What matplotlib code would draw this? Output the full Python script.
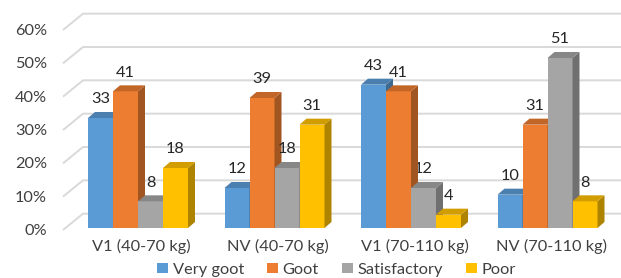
import matplotlib.pyplot as plt
from matplotlib.patches import Polygon, Patch
import matplotlib.colors as mcolors
import numpy as np

# data
groups = ["V1 (40-70 kg)", "NV (40-70 kg)", "V1 (70-110 kg)", "NV (70-110 kg)"]
series = ["Very goot", "Goot", "Satisfactory", "Poor"]
very_goot = [33, 12, 43, 10]
goot = [41, 39, 41, 31]
satisfactory = [8, 18, 12, 51]
poor = [18, 31, 4, 8]
yticks = [0, 10, 20, 30, 40, 50, 60]

colors = ["#5B9BD5", "#ED7D31", "#A5A5A5", "#FFC000"]
values = [very_goot, goot, satisfactory, poor]

plt.rcParams['font.family'] = ['Lato', 'DejaVu Sans']
txt = "#404040"
fs = 11.8

fig = plt.figure(figsize=(6.21, 2.78), dpi=100)
ax = fig.add_axes([0, 0, 1, 1])
ax.set_axis_off()

# pixel mapping: x = 138 + 136.5*i ; y = 228 - 3.333*v
px = 136.5
py = 200 / 60.0
ax.set_xlim(-138 / px, (621 - 138) / px)
ax.set_ylim(-(278 - 228) / py, 228 / py)

def X(p):
    return (p - 138) / px

# back wall gridlines
for v in yticks:
    ax.plot([X(63), X(83), X(625)], [v - 0.6, v + 4.3, v + 4.3],
            color="#D9D9D9", lw=1.4, solid_capstyle="butt", zorder=1)
    ax.text(X(47), v - 0.9, f"{v}%", ha="right", va="center",
            fontsize=fs, color=txt)

w = 25 / px
ddx = 7 / px
ddy = 6 / py

def shade(c, f):
    r, g, b = mcolors.to_rgb(c)
    return (r * f, g * f, b * f)

z = 3
for gi in range(len(groups)):
    for si in range(len(series)):
        h = values[si][gi]
        x0 = gi + (si - 2) * w
        x1 = x0 + w
        c = colors[si]
        ax.bar(x0, h, width=w, align="edge", color=c, zorder=z)
        side = Polygon([(x1, 0), (x1 + ddx, ddy), (x1 + ddx, h + ddy), (x1, h)],
                       closed=True, fc=shade(c, 0.68), ec="none", zorder=z)
        top = Polygon([(x0, h), (x0 + ddx, h + ddy), (x1 + ddx, h + ddy), (x1, h)],
                      closed=True, fc=shade(c, 0.82), ec="none", zorder=z)
        ax.add_patch(side)
        ax.add_patch(top)
        ax.text(x0 + w / 2, h + 5.6, str(h), ha="center", va="center",
                fontsize=fs, color="#262626", zorder=10)
        z += 1

for gi, g in enumerate(groups):
    ax.text(gi + ddx / 2, -5.4, g, ha="center", va="center", fontsize=fs, color=txt)

handles = [Patch(fc=c, ec="none") for c in colors]
fig.legend(handles, series, loc="center", bbox_to_anchor=(0.542, 0.03), ncol=4,
           frameon=False, fontsize=fs, handlelength=0.65, handleheight=0.65,
           handletextpad=0.3, columnspacing=1.4, labelcolor=txt, borderpad=0)

fig.savefig("out.png", dpi=100)
